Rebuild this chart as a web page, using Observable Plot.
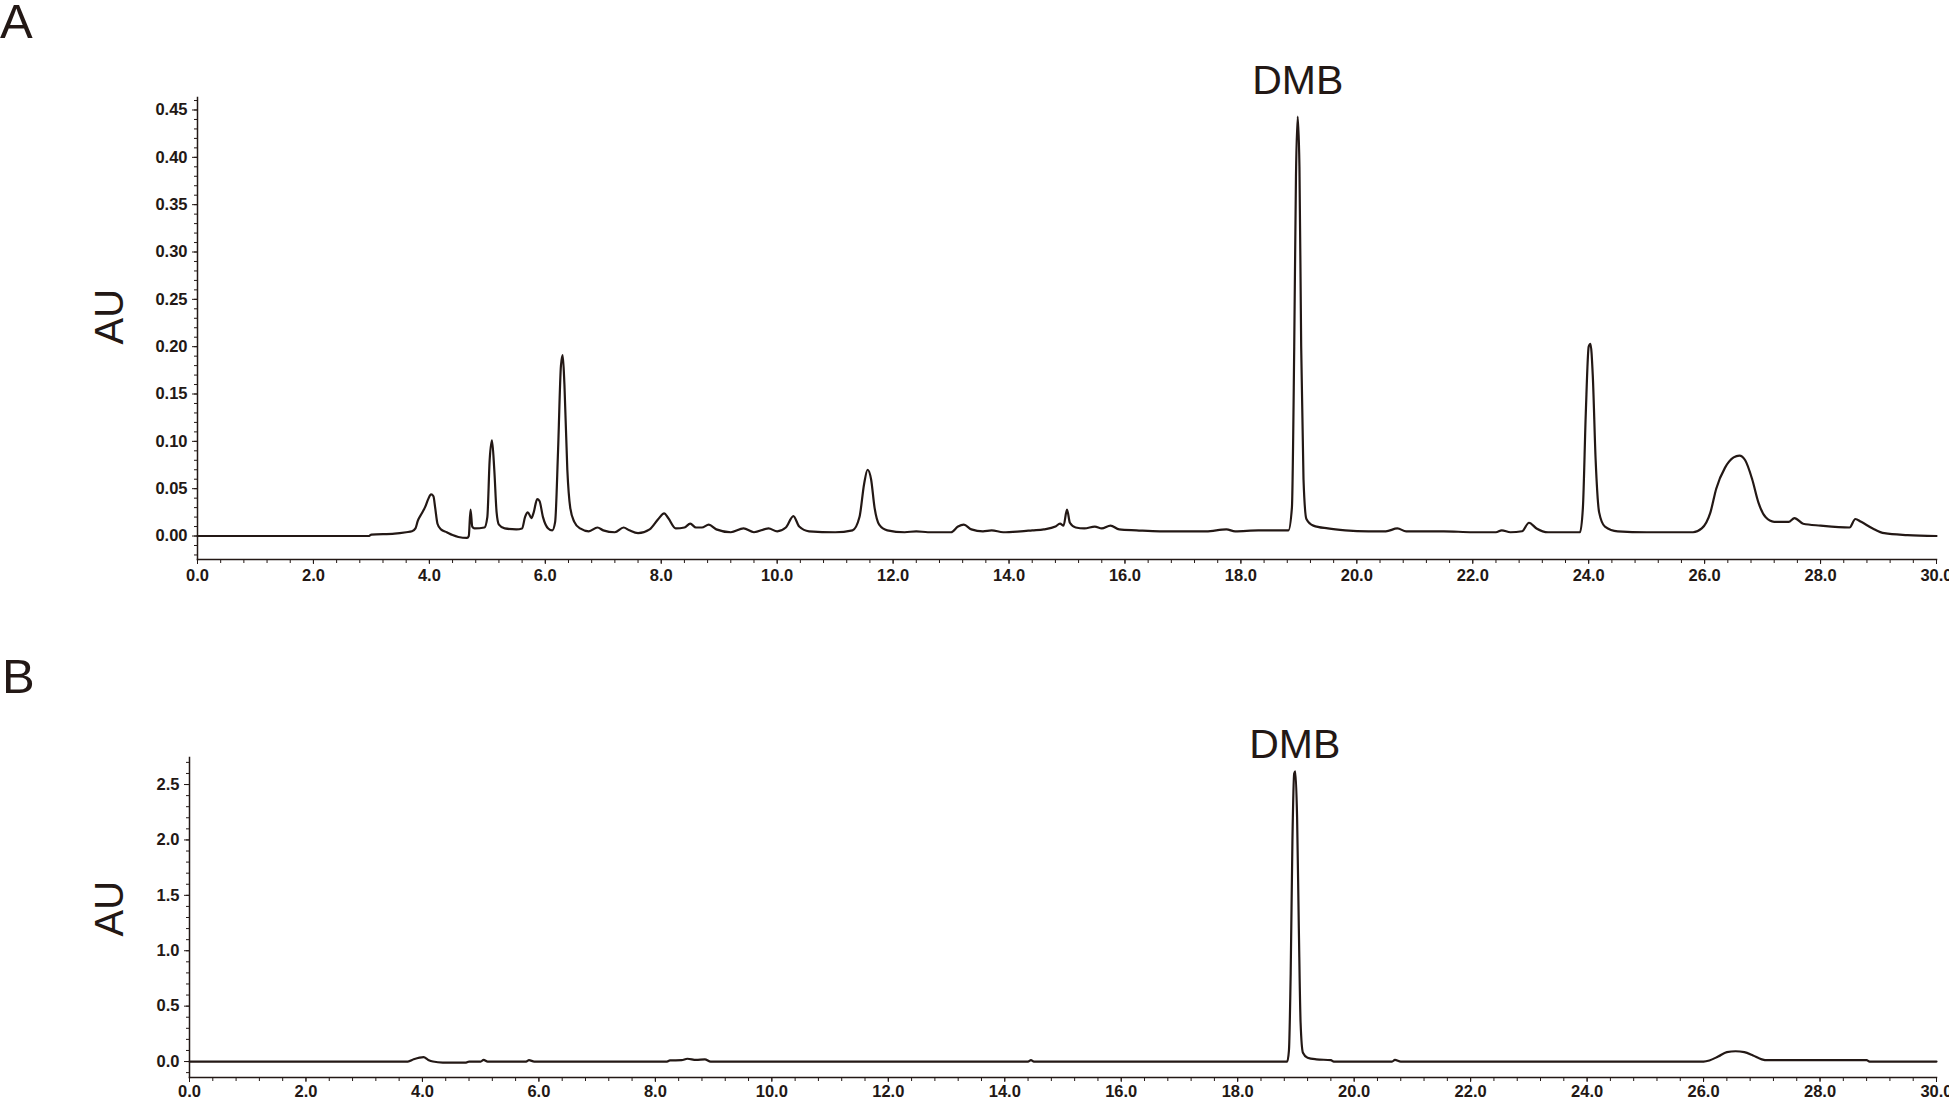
<!DOCTYPE html>
<html>
<head>
<meta charset="utf-8">
<script src="https://cdn.jsdelivr.net/npm/d3@7"></script>
<script src="https://cdn.jsdelivr.net/npm/@observablehq/plot@0.6"></script>
<style>
  html, body { margin: 0; padding: 0; background: #fff; }
  #page { position: relative; width: 1949px; height: 1098px; overflow: hidden; background: #fff;
          font-family: "Liberation Sans", Arial, Helvetica, sans-serif; color: #231815; }
  .panel-letter { position: absolute; font-size: 49px; line-height: 40px; font-weight: 400; }
  .plot { position: absolute; left: 0; }
  .plot svg { display: block; }
</style>
</head>
<body>
<div id="page">
  <div class="panel-letter" id="letterA" style="left:0px; top:1px;"></div>
  <div class="panel-letter" id="letterB" style="left:2px; top:656px;"></div>
  <div class="plot" id="plotA" style="top:0px;"></div>
  <div class="plot" id="plotB" style="top:640px;"></div>
</div>
<script>
// ---------- data ----------
const panelLetters = ["A", "B"];
const yAxisTitle = "AU";

// major tick labels
const xTicks = [0, 2, 4, 6, 8, 10, 12, 14, 16, 18, 20, 22, 24, 26, 28, 30];
const yTicksA = [0, 0.05, 0.10, 0.15, 0.20, 0.25, 0.30, 0.35, 0.40, 0.45];
const yTicksB = [0, 0.5, 1.0, 1.5, 2.0, 2.5];

// peak annotations (retention time, min)
const peakLabelsA = [{t: 18.98, label: "DMB"}];
const peakLabelsB = [{t: 18.98, label: "DMB"}];

// chromatogram A: [time (min), absorbance (AU)]
const traceA = [
  [0, 0], [2.95, 0], [3.0, 0.0015], [3.4, 0.0025], [3.6, 0.004], [3.7, 0.005],
  [3.76, 0.008], [3.8, 0.016], [3.87, 0.024], [3.93, 0.031], [3.98, 0.039],
  [4.03, 0.044], [4.07, 0.042], [4.1, 0.03], [4.14, 0.013], [4.2, 0.007],
  [4.3, 0.004], [4.4, 0.001], [4.5, -0.001], [4.65, -0.002], [4.68, 0.0],
  [4.71, 0.028], [4.74, 0.01], [4.78, 0.008], [4.95, 0.009], [5.0, 0.02],
  [5.04, 0.08], [5.08, 0.101], [5.12, 0.07], [5.16, 0.025], [5.2, 0.012],
  [5.3, 0.008], [5.5, 0.007], [5.6, 0.008], [5.65, 0.02], [5.7, 0.025],
  [5.76, 0.019], [5.8, 0.025], [5.86, 0.039], [5.9, 0.037], [5.96, 0.02],
  [6.05, 0.008], [6.12, 0.006], [6.17, 0.015], [6.22, 0.09], [6.27, 0.18],
  [6.3, 0.191], [6.33, 0.16], [6.38, 0.07], [6.43, 0.03], [6.5, 0.015],
  [6.6, 0.008], [6.75, 0.005], [6.9, 0.009], [7.0, 0.006], [7.2, 0.004],
  [7.35, 0.009], [7.45, 0.006], [7.6, 0.003], [7.8, 0.007], [7.95, 0.018],
  [8.05, 0.024], [8.12, 0.019], [8.25, 0.008], [8.4, 0.009], [8.5, 0.013],
  [8.6, 0.009], [8.7, 0.009], [8.82, 0.012], [8.95, 0.007], [9.2, 0.004],
  [9.42, 0.008], [9.6, 0.004], [9.85, 0.008], [10.0, 0.005], [10.15, 0.009],
  [10.28, 0.021], [10.38, 0.01], [10.55, 0.005], [11.0, 0.004], [11.3, 0.006],
  [11.42, 0.02], [11.5, 0.055], [11.56, 0.07], [11.62, 0.06], [11.68, 0.03],
  [11.76, 0.012], [11.9, 0.006], [12.2, 0.004], [12.4, 0.005], [12.6, 0.004],
  [13.0, 0.004], [13.12, 0.01], [13.22, 0.012], [13.35, 0.007], [13.55, 0.005],
  [13.7, 0.006], [13.9, 0.004], [14.2, 0.005], [14.4, 0.006], [14.6, 0.007],
  [14.8, 0.01], [14.88, 0.013], [14.94, 0.011], [15.0, 0.028], [15.05, 0.014],
  [15.15, 0.009], [15.3, 0.008], [15.48, 0.01], [15.6, 0.008], [15.75, 0.011],
  [15.9, 0.007], [16.2, 0.006], [16.6, 0.005], [17.4, 0.005], [17.75, 0.007],
  [17.9, 0.005], [18.3, 0.006], [18.82, 0.006], [18.88, 0.03], [18.92, 0.2],
  [18.95, 0.38], [18.98, 0.443], [19.01, 0.39], [19.04, 0.2], [19.08, 0.06],
  [19.13, 0.018], [19.25, 0.011], [19.5, 0.008], [19.8, 0.006], [20.2, 0.005],
  [20.5, 0.005], [20.7, 0.008], [20.85, 0.005], [21.5, 0.005], [22.0, 0.004],
  [22.4, 0.004], [22.5, 0.006], [22.65, 0.004], [22.85, 0.005], [22.97, 0.014],
  [23.1, 0.008], [23.3, 0.004], [23.85, 0.004], [23.9, 0.03], [23.95, 0.13],
  [24.0, 0.2], [24.03, 0.203], [24.07, 0.17], [24.12, 0.08], [24.18, 0.025],
  [24.28, 0.01], [24.5, 0.005], [25.0, 0.004], [25.8, 0.004], [25.95, 0.008],
  [26.1, 0.025], [26.2, 0.05], [26.35, 0.072], [26.5, 0.083], [26.6, 0.085],
  [26.7, 0.08], [26.82, 0.06], [26.93, 0.035], [27.05, 0.02], [27.2, 0.015],
  [27.45, 0.015], [27.55, 0.019], [27.7, 0.013], [28.0, 0.011], [28.5, 0.009],
  [28.6, 0.018], [28.7, 0.015], [28.9, 0.008], [29.1, 0.003], [29.5, 0.001],
  [30.0, 0.0]
];

// chromatogram B: [time (min), absorbance (AU)]
const traceB = [
  [0, 0], [3.75, 0], [3.85, 0.02], [3.95, 0.035], [4.02, 0.04], [4.1, 0.015],
  [4.18, 0.0], [4.35, -0.009], [4.75, -0.009], [4.8, 0.0], [5.0, 0.0],
  [5.05, 0.015], [5.12, 0.0], [5.78, 0.0], [5.83, 0.012], [5.92, 0.0],
  [8.2, 0.0], [8.25, 0.01], [8.45, 0.012], [8.55, 0.025], [8.7, 0.015],
  [8.85, 0.02], [8.95, 0.0], [14.4, 0.0], [14.45, 0.012], [14.5, 0.0],
  [18.85, 0.0], [18.88, 0.1], [18.91, 0.8], [18.94, 2.0], [18.97, 2.6],
  [18.99, 2.62], [19.02, 2.2], [19.05, 1.2], [19.08, 0.35], [19.12, 0.08],
  [19.2, 0.035], [19.35, 0.02], [19.6, 0.012], [19.65, 0.0], [20.65, 0.0],
  [20.7, 0.015], [20.8, 0.0], [26.0, 0.0], [26.1, 0.01], [26.25, 0.045],
  [26.4, 0.085], [26.55, 0.093], [26.7, 0.085], [26.85, 0.055], [27.0, 0.02],
  [27.1, 0.012], [28.8, 0.012], [28.85, 0.0], [30.0, 0.0]
];

// ---------- drawing ----------
const ink = "#231815";
const fontFamily = '"Liberation Sans", Arial, Helvetica, sans-serif';
const xMinor = d3.range(0, 30.0001, 0.4).map(v => +v.toFixed(2));

function panel({trace, peaks, yDomain, yTicks, yMinor, yFormat, height,
                marginLeft, marginTop, marginBottom, auDx, auDy, dmbDy, xPad}) {
  return Plot.plot({
    width: 1949,
    height,
    marginLeft,
    marginRight: 13,
    marginTop,
    marginBottom,
    style: {fontFamily, color: ink, background: "transparent"},
    x: {domain: [0, 30]},
    y: {domain: yDomain},
    marks: [
      Plot.axisY({ticks: yMinor, tickSize: 3, tickFormat: () => "", stroke: ink, label: null}),
      Plot.axisY({ticks: yTicks, tickSize: 5, tickPadding: 5, tickFormat: d3.format(yFormat),
                  fontSize: 16.5, fontWeight: "bold", fill: ink, stroke: ink, label: null}),
      Plot.axisX({ticks: xMinor, tickSize: 4, tickFormat: () => "", stroke: ink, label: null}),
      Plot.axisX({ticks: xTicks, tickSize: 5, tickPadding: xPad, tickFormat: d3.format(".1f"),
                  fontSize: 16.5, fontWeight: "bold", fill: ink, stroke: ink, label: null}),
      Plot.frame({anchor: "left", stroke: ink, strokeWidth: 1.5}),
      Plot.frame({anchor: "bottom", stroke: ink, strokeWidth: 1.5}),
      Plot.line(trace, {x: d => d[0], y: d => d[1], stroke: ink, strokeWidth: 2.2,
                        strokeLinejoin: "round", curve: "monotone-x"}),
      Plot.text(peaks, {x: "t", text: "label", frameAnchor: "top", lineAnchor: "bottom", dy: dmbDy,
                        fontSize: 41, fontWeight: "normal", fill: ink}),
      Plot.text([yAxisTitle], {text: d => d, frameAnchor: "left", rotate: -90, dx: auDx, dy: auDy,
                               fontSize: 40, fontWeight: "normal", fill: ink})
    ]
  });
}

document.getElementById("letterA").textContent = panelLetters[0];
document.getElementById("letterB").textContent = panelLetters[1];

document.getElementById("plotA").append(panel({
  trace: traceA, peaks: peakLabelsA,
  yDomain: [-0.0248, 0.4632], yTicks: yTicksA,
  yMinor: d3.range(-0.02, 0.4601, 0.01).map(v => +v.toFixed(3)),
  yFormat: ".2f", height: 600, marginLeft: 197, marginTop: 97, marginBottom: 41,
  auDx: -87, auDy: 16, dmbDy: -4, xPad: 5
}));

document.getElementById("plotB").append(panel({
  trace: traceB, peaks: peakLabelsB,
  yDomain: [-0.144, 2.744], yTicks: yTicksB,
  yMinor: d3.range(-0.1, 2.7001, 0.1).map(v => +v.toFixed(2)),
  yFormat: ".1f", height: 460, marginLeft: 189, marginTop: 117, marginBottom: 23,
  auDx: -79, auDy: 19, dmbDy: 0, xPad: 3
}));
</script>
</body>
</html>
